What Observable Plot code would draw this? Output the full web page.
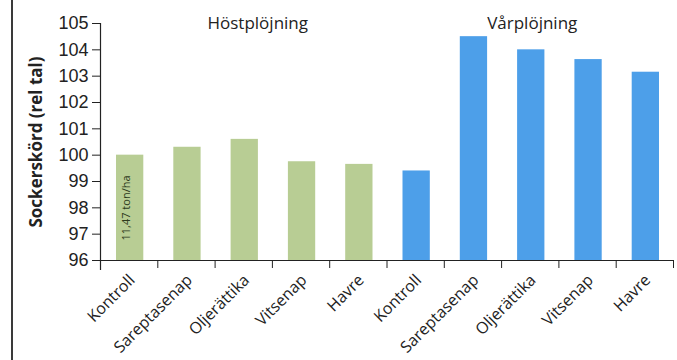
<!DOCTYPE html>
<html>
<head>
<meta charset="utf-8">
<script src="https://cdn.jsdelivr.net/npm/d3@7"></script>
<script src="https://cdn.jsdelivr.net/npm/@observablehq/plot@0.6"></script>
<style>
  html, body { margin: 0; padding: 0; background: #fff; }
  #wrap { position: relative; width: 677px; height: 360px; }
  #frame { position: absolute; left: 11px; top: 0; width: 2px; height: 360px; background: #3a3a3a; }
</style>
</head>
<body>
<div id="wrap"><div id="frame"></div></div>
<script>
const categories = ["Kontroll", "Sareptasenap", "Oljerättika", "Vitsenap", "Havre",
                    "Kontroll", "Sareptasenap", "Oljerättika", "Vitsenap", "Havre"];
const groups = ["Höstplöjning", "Höstplöjning", "Höstplöjning", "Höstplöjning", "Höstplöjning",
                "Vårplöjning", "Vårplöjning", "Vårplöjning", "Vårplöjning", "Vårplöjning"];
const values = [100.0, 100.3, 100.6, 99.75, 99.65, 99.4, 104.5, 104.0, 103.63, 103.15];
const groupTitles = ["Höstplöjning", "Vårplöjning"];
const groupColors = ["#b8cd94", "#4d9fe9"];
const yTicks = [96, 97, 98, 99, 100, 101, 102, 103, 104, 105];
const yLabel = "Sockerskörd (rel tal)";
const barNote = "11,47 ton/ha";

const data = categories.map((c, i) => ({i, c, g: groups[i], v: values[i]}));
const titleX = g => d3.mean(data.filter(d => d.g === g), d => d.i) + 0.5;

const font = "Open Sans, Noto Sans, sans-serif";

const chart = Plot.plot({
  width: 677,
  height: 360,
  marginLeft: 100,
  marginRight: 4,
  marginTop: 23,
  marginBottom: 100,
  style: {fontFamily: font, background: "#fff", color: "#222"},
  x: {type: "linear", domain: [0, categories.length], axis: null},
  y: {domain: [96, 105], axis: null},
  color: {domain: groupTitles, range: groupColors},
  marks: [
    Plot.rectY(data, {x1: d => d.i, x2: d => d.i + 1, y1: 96, y2: "v", fill: "g", insetLeft: 16, insetRight: 14}),
    Plot.axisY({ticks: yTicks, tickSize: 8, tickPadding: 4, fontSize: 18, label: null,
                fontFamily: "Liberation Sans, Arial, sans-serif", stroke: "#222", fill: "#222"}),
    Plot.ruleX([0], {y1: 105, y2: 96, insetBottom: -10, stroke: "#222", strokeWidth: 1.2}),
    Plot.ruleY([96], {x1: 0, x2: categories.length, stroke: "#222", strokeWidth: 1.2}),
    Plot.axisX({ticks: d3.range(0, categories.length + 1), tickFormat: () => "", tickSize: 8, stroke: "#222"}),
    Plot.text(data, {x: d => d.i + 0.5, y: 96, text: "c", rotate: -45, textAnchor: "end",
                     dx: 3, dy: 17, fontSize: 16, fill: "#222"}),
    Plot.text([yLabel], {frameAnchor: "left", text: d => d, rotate: -90, dx: -64, textAnchor: "middle",
                         fontSize: 17, fontWeight: "bold", fill: "#222"}),
    Plot.text([groupTitles[0]], {x: titleX(groupTitles[0]), y: 105, text: d => d, dx: 14, dy: 0,
                                 fontSize: 17, fill: "#222"}),
    Plot.text([groupTitles[1]], {x: titleX(groupTitles[1]), y: 105, text: d => d, dx: 2, dy: 0,
                                 fontSize: 17, fill: "#222"}),
    Plot.text([barNote], {x: 0.5, y: 96, text: d => d, rotate: -90, textAnchor: "start", dx: -3, dy: -20,
                          fontSize: 11, fill: "#2e3a1c"})
  ]
});
document.getElementById("wrap").appendChild(chart);
</script>
</body>
</html>
